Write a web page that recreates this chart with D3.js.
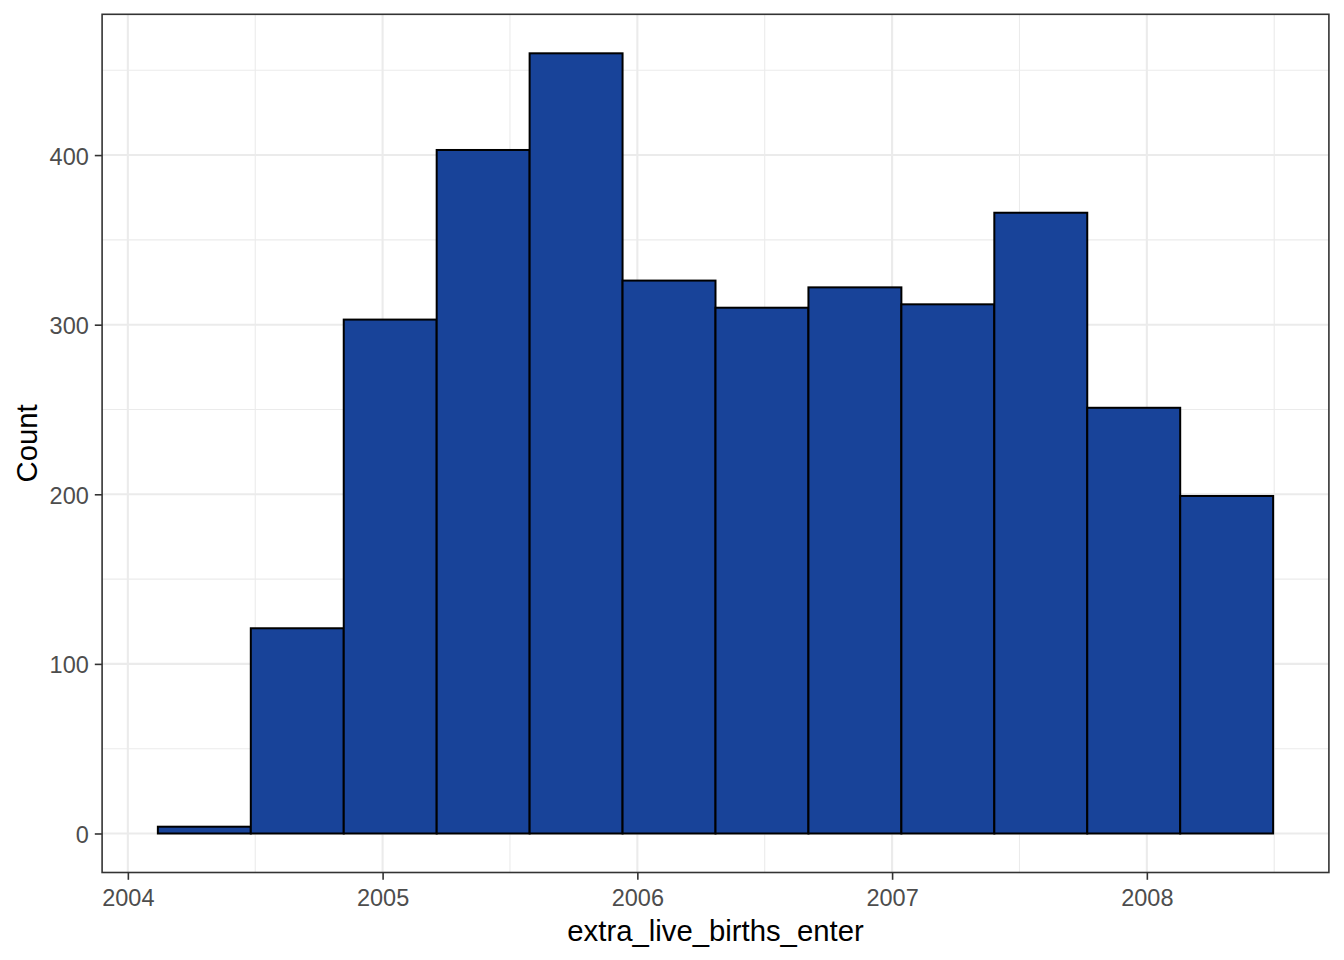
<!DOCTYPE html>
<html>
<head>
<meta charset="utf-8">
<script src="https://cdn.jsdelivr.net/npm/d3@7"></script>
<style>
  html, body { margin: 0; padding: 0; background: #fff; }
  svg { display: block; font-family: "Liberation Sans", Arial, sans-serif; }
</style>
</head>
<body>
<svg id="chart" width="1344" height="960"></svg>
<script>
// Histogram bin edges (years) and counts
const binStart = 2004.1178;
const binWidth = 0.36483;
const counts = [4, 121, 303, 403, 460, 326, 310, 322, 312, 366, 251, 199];
const xTicks = [2004, 2005, 2006, 2007, 2008];
const xMinor = [2004.5, 2005.5, 2006.5, 2007.5, 2008.5];
const yTicks = [0, 100, 200, 300, 400];
const yMinor = [50, 150, 250, 350, 450];
const xTitle = "extra_live_births_enter";
const yTitle = "Count";

const bins = counts.map((c, i) => ({ x0: binStart + i * binWidth, x1: binStart + (i + 1) * binWidth, n: c }));

const svg = d3.select("#chart");
const panel = { left: 102.1, right: 1328.9, top: 14.3, bottom: 872.5 };

const xMin = bins[0].x0, xMax = bins[bins.length - 1].x1;
const xPad = (xMax - xMin) * 0.05;
const yMax = d3.max(counts);
const yPad = yMax * 0.05;

const x = d3.scaleLinear().domain([xMin - xPad, xMax + xPad]).range([panel.left, panel.right]);
const y = d3.scaleLinear().domain([-yPad, yMax + yPad]).range([panel.bottom, panel.top]);

const grid = svg.append("g");
// minor grid
grid.selectAll("line.xminor").data(xMinor).join("line")
  .attr("x1", d => x(d)).attr("x2", d => x(d))
  .attr("y1", panel.top).attr("y2", panel.bottom)
  .attr("stroke", "#EBEBEB").attr("stroke-width", 1.1);
grid.selectAll("line.yminor").data(yMinor).join("line")
  .attr("y1", d => y(d)).attr("y2", d => y(d))
  .attr("x1", panel.left).attr("x2", panel.right)
  .attr("stroke", "#EBEBEB").attr("stroke-width", 1.1);
// major grid
grid.selectAll("line.xmajor").data(xTicks).join("line")
  .attr("x1", d => x(d)).attr("x2", d => x(d))
  .attr("y1", panel.top).attr("y2", panel.bottom)
  .attr("stroke", "#EBEBEB").attr("stroke-width", 2.1);
grid.selectAll("line.ymajor").data(yTicks).join("line")
  .attr("y1", d => y(d)).attr("y2", d => y(d))
  .attr("x1", panel.left).attr("x2", panel.right)
  .attr("stroke", "#EBEBEB").attr("stroke-width", 2.1);

// bars
svg.append("g").selectAll("rect").data(bins).join("rect")
  .attr("x", d => x(d.x0))
  .attr("width", d => x(d.x1) - x(d.x0))
  .attr("y", d => y(d.n))
  .attr("height", d => y(0) - y(d.n))
  .attr("fill", "#184399")
  .attr("stroke", "#000")
  .attr("stroke-width", 2);

// panel border
svg.append("rect")
  .attr("x", panel.left).attr("y", panel.top)
  .attr("width", panel.right - panel.left).attr("height", panel.bottom - panel.top)
  .attr("fill", "none").attr("stroke", "#333333").attr("stroke-width", 1.6);

// axes
const xAxis = d3.axisBottom(x).tickValues(xTicks).tickSize(7.3).tickPadding(10).tickFormat(d3.format("d"));
const gx = svg.append("g").attr("transform", `translate(0,${panel.bottom})`).call(xAxis);
gx.select(".domain").remove();
gx.selectAll(".tick line").attr("stroke", "#333333").attr("stroke-width", 1.6);
gx.selectAll(".tick text").attr("fill", "#4D4D4D").attr("font-size", 23.5)
  .attr("font-family", "Liberation Sans, Arial, sans-serif").attr("dy", "0.71em");

const yAxis = d3.axisLeft(y).tickValues(yTicks).tickSize(7.3).tickPadding(6);
const gy = svg.append("g").attr("transform", `translate(${panel.left},0)`).call(yAxis);
gy.select(".domain").remove();
gy.selectAll(".tick line").attr("stroke", "#333333").attr("stroke-width", 1.6);
gy.selectAll(".tick text").attr("fill", "#4D4D4D").attr("font-size", 23.5)
  .attr("font-family", "Liberation Sans, Arial, sans-serif").attr("dy", "0.38em");

// titles
svg.append("text")
  .attr("x", (panel.left + panel.right) / 2).attr("y", 941)
  .attr("text-anchor", "middle").attr("font-size", 29.3).attr("fill", "#000")
  .text(xTitle);
svg.append("text")
  .attr("transform", `translate(37,${(panel.top + panel.bottom) / 2}) rotate(-90)`)
  .attr("text-anchor", "middle").attr("font-size", 29.3).attr("fill", "#000")
  .text(yTitle);
</script>
</body>
</html>
